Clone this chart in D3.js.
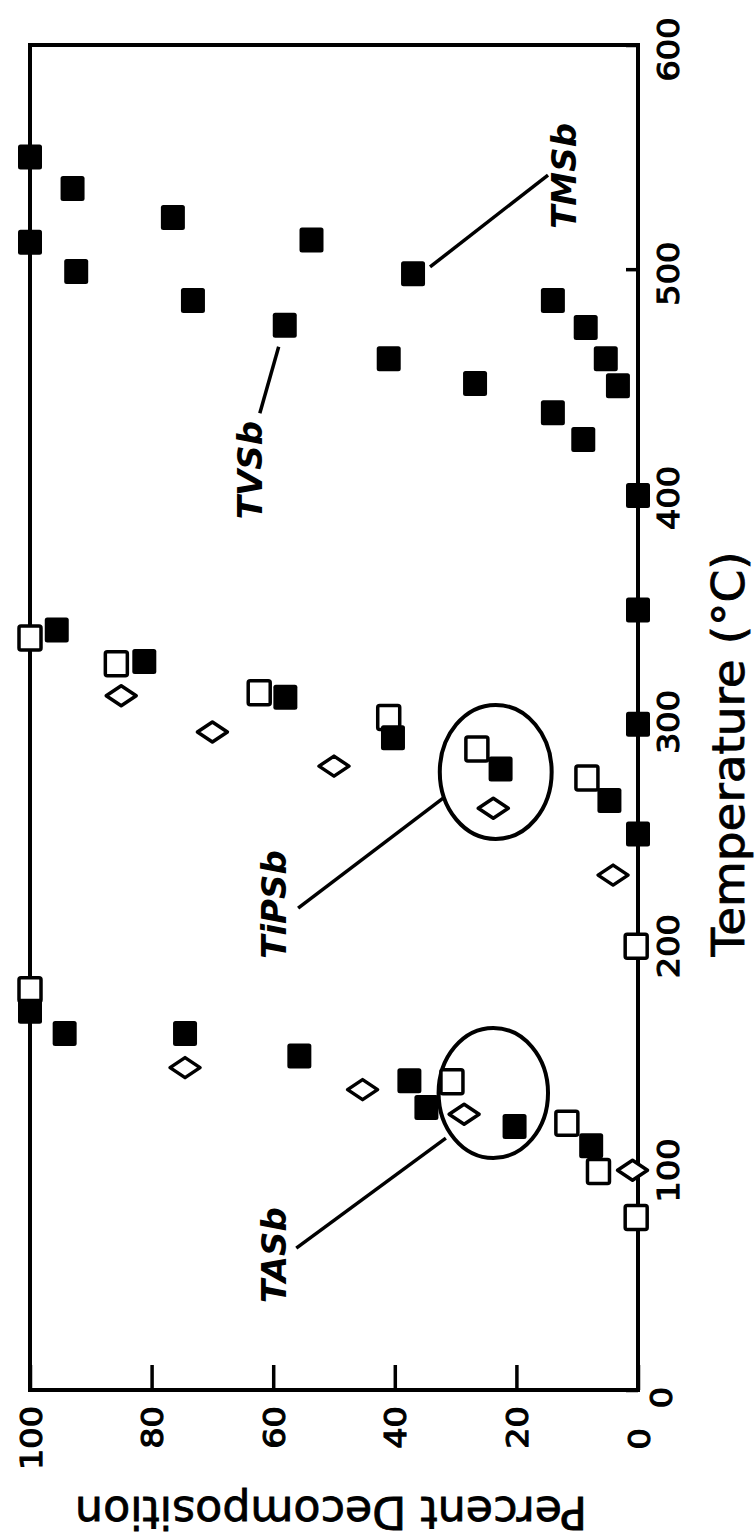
<!DOCTYPE html>
<html>
<head>
<meta charset="utf-8">
<script src="https://cdn.jsdelivr.net/npm/d3@7"></script>
<style>
  html, body { margin: 0; padding: 0; background: #fff; }
  svg { display: block; }
  text { font-family: 'DejaVu Sans', sans-serif; fill: #000; }
</style>
</head>
<body>
<div id="chart-container"></div>
<script>
// Page size (the figure is printed rotated: temperature runs bottom -> top)
const width = 756;
const height = 1539;

// Tick labels
const tempTicks = [0, 100, 200, 300, 400, 500, 600];
const pctTicks = [0, 20, 40, 60, 80, 100];

// Data: [percent decomposition, temperature °C]
const filledTVSb = [[100, 550], [93, 536], [76.5, 523], [100, 512], [92.4, 499], [73.2, 486], [58.1, 475], [41, 460], [26.8, 449]];
const filledTMSb = [[53.7, 513], [37, 498], [14, 486], [8.6, 474], [5.3, 460], [3.3, 448], [14, 436], [9, 424], [0, 399]];
const filledTiPSb = [[95.6, 339], [81.2, 325], [58, 309], [40.3, 291], [22.6, 277], [4.7, 263], [0, 348], [0, 297], [0, 248]];
const filledTASb = [[100, 169], [94.3, 159], [74.5, 159], [55.7, 149], [37.6, 138], [34.8, 126], [20.3, 117.5], [7.7, 109]];
const openTiPSb = [[100, 335.5], [85.8, 324], [62.3, 311], [41, 300], [26.5, 286], [8.4, 273], [0.3, 198]];
const openTASb = [[100, 178.5], [30.6, 137.5], [11.7, 119], [6.5, 97.5], [0.3, 77]];
const diamondTiPSb = [[85, 309.7], [70, 293.5], [50, 278.3], [23.8, 259.5], [4.1, 229.7]];
const diamondTASb = [[74.5, 143.8], [45.3, 134], [28.6, 123], [0.9, 98]];

// Annotations
const labelNames = ['TMSb', 'TVSb', 'TiPSb', 'TASb'];
const labelPos = [[12.2, 541.6], [63.8, 410.4], [59.9, 216.6], [59.9, 60.2]];
const leaderLines = [
    [[34.2, 501], [14.8, 542]],
    [[59.1, 465.4], [62.2, 435.7]],
    [[32.1, 263.9], [55.9, 215]],
    [[31.6, 112.4], [56.2, 63.3]]
];
const ellipses = [[23.4, 275.7, 9.2, 29.9], [23.8, 132.5, 9, 29]];

// Scales: percent -> screen x (right to left), temperature -> screen y (bottom to top)
const xScale = d3.scaleLinear().domain([0, 100]).range([638, 30]);
const yScale = d3.scaleLinear().domain([0, 600]).range([1390, 45]);

const svg = d3.select('#chart-container')
    .append('svg')
    .attr('width', width)
    .attr('height', height);

// Frame
svg.append('rect')
    .attr('x', xScale(100))
    .attr('y', yScale(600))
    .attr('width', xScale(0) - xScale(100))
    .attr('height', yScale(0) - yScale(600))
    .attr('fill', 'none')
    .attr('stroke', '#000')
    .attr('stroke-width', 4);

// Percent axis (along the bottom edge, ticks pointing in)
const pctAxis = d3.axisBottom(xScale)
    .tickValues(pctTicks)
    .tickSizeInner(-25)
    .tickSizeOuter(0);

const pctG = svg.append('g')
    .attr('transform', `translate(0,${yScale(0)})`)
    .call(pctAxis);
pctG.select('.domain').remove();
pctG.selectAll('line').attr('stroke', '#000').attr('stroke-width', 3.5);
pctG.selectAll('text')
    .attr('x', null).attr('y', null).attr('dy', null)
    .attr('text-anchor', 'end')
    .attr('transform', d => `translate(11,${d === 0 ? 38 : 16}) rotate(-90) scale(1.12,1)`)
    .style('font-size', '30px')
    .style('stroke', '#000')
    .style('stroke-width', 1.1);

// Temperature axis (along the right edge, ticks pointing in)
const tempAxis = d3.axisRight(yScale)
    .tickValues(tempTicks)
    .tickSizeInner(-12)
    .tickSizeOuter(0);

const tempG = svg.append('g')
    .attr('transform', `translate(${xScale(0)},0)`)
    .call(tempAxis);
tempG.select('.domain').remove();
tempG.selectAll('line').attr('stroke', '#000').attr('stroke-width', 3.5);
tempG.selectAll('text')
    .attr('x', null).attr('y', null).attr('dy', null)
    .attr('text-anchor', 'middle')
    .attr('transform', d => `translate(${d === 0 ? 34 : 41},${d === 0 ? 7 : 4}) rotate(-90) scale(1.12,1)`)
    .style('font-size', '30px')
    .style('stroke', '#000')
    .style('stroke-width', 1.1);

// Axis titles
svg.append('text')
    .attr('transform', 'translate(744,754) rotate(-90)')
    .attr('text-anchor', 'middle')
    .attr('textLength', 405)
    .attr('lengthAdjust', 'spacingAndGlyphs')
    .style('font-size', '44px')
    .style('stroke', '#000')
    .style('stroke-width', 0.8)
    .text('Temperature (°C)');

svg.append('text')
    .attr('transform', 'translate(331,1497) rotate(180)')
    .attr('text-anchor', 'middle')
    .attr('textLength', 512)
    .attr('lengthAdjust', 'spacingAndGlyphs')
    .style('font-size', '44px')
    .style('stroke', '#000')
    .style('stroke-width', 0.8)
    .text('Percent Decomposition');

// Ellipses round the circled points
svg.selectAll('ellipse.ring')
    .data(ellipses)
    .enter()
    .append('ellipse')
    .attr('class', 'ring')
    .attr('cx', d => xScale(d[0]))
    .attr('cy', d => yScale(d[1]))
    .attr('rx', d => xScale(0) - xScale(d[2]))
    .attr('ry', d => yScale(0) - yScale(d[3]))
    .attr('fill', 'none')
    .attr('stroke', '#000')
    .attr('stroke-width', 4);

// Leader lines
svg.selectAll('line.leader')
    .data(leaderLines)
    .enter()
    .append('line')
    .attr('class', 'leader')
    .attr('x1', d => xScale(d[0][0]))
    .attr('y1', d => yScale(d[0][1]))
    .attr('x2', d => xScale(d[1][0]))
    .attr('y2', d => yScale(d[1][1]))
    .attr('stroke', '#000')
    .attr('stroke-width', 3.5);

// Series labels
svg.selectAll('text.series')
    .data(labelNames)
    .enter()
    .append('text')
    .attr('class', 'series')
    .attr('text-anchor', 'middle')
    .attr('transform', (d, i) => `translate(${xScale(labelPos[i][0]) + 12},${yScale(labelPos[i][1])}) rotate(-90)`)
    .style('font-size', '34px')
    .style('font-weight', 'bold')
    .style('font-style', 'italic')
    .text(d => d);

// Open squares
const openSquares = openTiPSb.concat(openTASb);
svg.selectAll('rect.open')
    .data(openSquares)
    .enter()
    .append('rect')
    .attr('class', 'open')
    .attr('x', d => xScale(d[0]) - 11)
    .attr('y', d => yScale(d[1]) - 12)
    .attr('width', 22)
    .attr('height', 24)
    .attr('rx', 2)
    .attr('fill', '#fff')
    .attr('stroke', '#000')
    .attr('stroke-width', 3.5);

// Open diamonds
const diamonds = diamondTiPSb.concat(diamondTASb);
svg.selectAll('path.diamond')
    .data(diamonds)
    .enter()
    .append('path')
    .attr('class', 'diamond')
    .attr('d', d => {
        const cx = xScale(d[0]);
        const cy = yScale(d[1]);
        return `M${cx - 15},${cy} L${cx},${cy - 10} L${cx + 15},${cy} L${cx},${cy + 10} Z`;
    })
    .attr('fill', '#fff')
    .attr('stroke', '#000')
    .attr('stroke-width', 3.5)
    .attr('stroke-linejoin', 'round');

// Filled squares
const filledSquares = filledTVSb.concat(filledTMSb, filledTiPSb, filledTASb);
svg.selectAll('rect.filled')
    .data(filledSquares)
    .enter()
    .append('rect')
    .attr('class', 'filled')
    .attr('x', d => xScale(d[0]) - 12)
    .attr('y', d => yScale(d[1]) - 12.5)
    .attr('width', 24)
    .attr('height', 25)
    .attr('rx', 2.5)
    .attr('fill', '#000');
</script>
</body>
</html>
